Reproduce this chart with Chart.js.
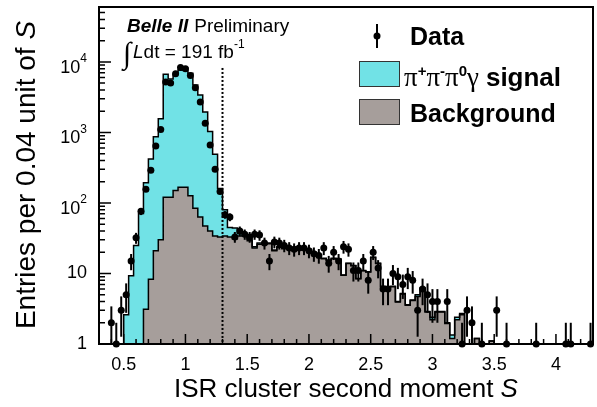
<!DOCTYPE html>
<html>
<head>
<meta charset="utf-8">
<script src="https://cdn.jsdelivr.net/npm/chart.js@4.4.0/dist/chart.umd.min.js"></script>
<style>
  html, body { margin: 0; padding: 0; background: #fff; }
  #wrap { position: relative; width: 597px; height: 407px; }
</style>
</head>
<body>
<div id="wrap"><canvas id="momentChart" width="597" height="407"></canvas></div>
<script>
// binning of the histogram: 100 bins of 0.04 from 0.3 to 4.3
const binLow = 0.3;
const binWidth = 0.04;
const nBins = 100;

// MC background per bin
const background = [
  0, 0, 0, 0, 0, 0, 0, 0, 0, 3.1,
  8.3, 21, 30, 120, 120, 150, 167, 167, 126, 84,
  63, 47, 40, 34, 33, 34, 33, 31, 34, 34.5,
  29, 23, 26, 26, 26.3, 21, 23.5, 22.5, 22.4, 22.1,
  21.7, 22.2, 21.7, 19.8, 18.1, 16.2, 15.3, 16.2, 15.8, 9.4,
  13.9, 12.9, 8.4, 10.9, 10.5, 16.9, 13.9, 6.5, 6.4, 6.5,
  3.95, 5.1, 3.55, 4.15, 4.7, 6.1, 2.85, 2.2, 2.85, 2.85,
  1.95, 1.2, 2.2, 2.6, 0, 0, 1.2, 0, 0, 1.1,
  0, 0, 0, 0, 0, 0, 0, 0, 0, 0,
  0, 0, 0, 0, 0, 0, 0, 0, 0, 0
];

// MC signal (pi+ pi- pi0 gamma) per bin, stacked on top of background
const signal = [
  0, 0, 0, 0, 0, 2.6, 9.3, 25, 71, 191,
  413, 850, 1530, 6580, 5580, 6450, 7530, 7930, 6770, 4620,
  3340, 1900, 990, 456, 127, 46, 12, 13, 3, 2.5,
  1.5, 1, 1, 1, 0.7, 0.6, 0.5, 0.5, 0.4, 0.4,
  0.3, 0.3, 0.3, 0.2, 0.2, 0.2, 0.2, 0.2, 0.2, 0.1,
  0.1, 0.1, 0.1, 0.1, 0.1, 0.1, 0.1, 0.1, 0.1, 0.1,
  0.05, 0.1, 0.05, 0.05, 0.3, 0.1, 0.05, 0.2, 0.05, 0.05,
  0.05, 0.14, 0.2, 0.1, 0, 0, 0, 0, 0, 0,
  0, 0, 0, 0, 0, 0, 0, 0, 0, 0,
  0, 0, 0, 0, 0, 0, 0, 0, 0, 0
];

// data entries per bin
const dataCounts = [
  0, 0, 2, 1, 3, 5, 15, 32, 76, 156,
  291, 640, 1100, 5200, 5000, 6800, 8300, 8000, 6400, 4300,
  2700, 1350, 665, 300, 145, 68, 63, 33, 40, 36,
  33, 36, 35, 27, 15, 28, 27, 25, 23, 22,
  23, 23, 21, 19, 18, 23, 14, 20, 15, 24,
  22, 11, 11, 15, 8, 20, 12, 6, 6, 10,
  9, 7, 9, 8, 3, 6, 5, 4, 4, 0,
  4, 0, 0, 1, 3, 2, 0, 1, 0, 0,
  3, 0, 1, 0, 0, 0, 0, 0, 1, 0,
  0, 0, 0, 0, 1, 1, 0, 0, 0, 1
];

const xTickValues = [0.5, 1, 1.5, 2, 2.5, 3, 3.5, 4];
const yTickValues = [1, 10, 100, 1000, 10000];
const yTickExponents = ["", "", "2", "3", "4"];
const cutValue = 1.3;      // S cut, dotted line
const cutLineTop = 8200;   // dotted line stops under the lumi text

const FONT = "'Liberation Sans', Arial, Helvetica, sans-serif";
const SERIF = "'Liberation Serif', 'Times New Roman', serif";
const CYAN = "#71e2e6";
const GREY = "#a69e9b";
const floorValue = 1e-3; // empty bins, below the log axis

const edges = [];
for (let i = 0; i <= nBins; i++) edges.push(+(binLow + i * binWidth).toFixed(2));

const total = background.map((b, i) => b + signal[i]);

function stepPoints(values) {
  return edges.map((x, i) => ({ x: x, y: Math.max(values[Math.min(i, nBins - 1)], floorValue) }));
}

const dataPoints = [];
dataCounts.forEach((n, i) => {
  if (n > 0) dataPoints.push({ x: +(binLow + (i + 0.5) * binWidth).toFixed(2), y: n });
});

// draw a row of text pieces with different fonts / vertical offsets
function drawPieces(ctx, x, y, pieces) {
  pieces.forEach((p) => {
    ctx.font = p.font;
    ctx.fillText(p.t, x, y + (p.dy || 0));
    x += ctx.measureText(p.t).width;
  });
  return x;
}
function piecesWidth(ctx, pieces) {
  let w = 0;
  pieces.forEach((p) => { ctx.font = p.font; w += ctx.measureText(p.t).width; });
  return w;
}

const decorations = {
  id: "decorations",
  beforeDatasetDraw(chart, args) {
    if (args.index !== 2) return;
    const { ctx, chartArea: a, scales: { x, y } } = chart;
    ctx.save();
    // dotted cut line
    ctx.strokeStyle = "#000";
    ctx.lineWidth = 2;
    ctx.setLineDash([2, 2]);
    ctx.beginPath();
    const cx = x.getPixelForValue(cutValue);
    ctx.moveTo(cx, y.getPixelForValue(cutLineTop));
    ctx.lineTo(cx, a.bottom);
    ctx.stroke();
    ctx.setLineDash([]);
    // error bars sqrt(N)
    ctx.lineWidth = 2;
    dataPoints.forEach((p) => {
      const err = Math.sqrt(p.y);
      const lo = Math.max(p.y - err, y.min);
      const px = x.getPixelForValue(p.x);
      ctx.beginPath();
      ctx.moveTo(px, y.getPixelForValue(lo));
      ctx.lineTo(px, y.getPixelForValue(p.y + err));
      ctx.stroke();
    });
    ctx.restore();
  },
  afterDraw(chart) {
    const { ctx, chartArea: a, scales: { x, y } } = chart;
    ctx.save();
    ctx.strokeStyle = "#000";
    ctx.fillStyle = "#000";

    // ticks pointing inwards
    ctx.lineWidth = 1.5;
    ctx.beginPath();
    for (let k = 4; k <= 42; k++) {
      const px = x.getPixelForValue(k / 10);
      const len = k % 5 === 0 ? 10 : 5;
      ctx.moveTo(px, a.bottom);
      ctx.lineTo(px, a.bottom - len);
    }
    for (let d = 0; d <= 4; d++) {
      for (let m = 1; m <= 9; m++) {
        const v = m * Math.pow(10, d);
        if (v >= y.max) break;
        const py = y.getPixelForValue(v);
        ctx.moveTo(a.left, py);
        ctx.lineTo(a.left + (m === 1 ? 12 : 6), py);
      }
    }
    ctx.stroke();

    // frame
    ctx.lineWidth = 2;
    ctx.strokeRect(a.left, a.top, a.right - a.left, a.bottom - a.top);

    // y tick labels with superscripts
    ctx.textBaseline = "middle";
    ctx.textAlign = "left";
    yTickValues.forEach((v, i) => {
      const py = y.getPixelForValue(v);
      const exp = yTickExponents[i];
      if (exp === "") {
        ctx.font = "18px " + FONT;
        const w = ctx.measureText(String(v)).width;
        ctx.fillText(String(v), 87 - w, py);
      } else {
        const pieces = [
          { t: "10", font: "18px " + FONT, dy: 6 },
          { t: exp, font: "12px " + FONT, dy: -3 }
        ];
        drawPieces(ctx, 87 - piecesWidth(ctx, pieces), py, pieces);
      }
    });

    ctx.textBaseline = "alphabetic";
    // x title
    const xt = [
      { t: "ISR cluster second moment ", font: "26px " + FONT },
      { t: "S", font: "italic 26px " + FONT }
    ];
    drawPieces(ctx, 346 - piecesWidth(ctx, xt) / 2, 397, xt);

    // y title
    const yt = [
      { t: "Entries per 0.04 unit of ", font: "28px " + FONT },
      { t: "S", font: "italic 28px " + FONT }
    ];
    ctx.save();
    ctx.translate(35, 175);
    ctx.rotate(-Math.PI / 2);
    drawPieces(ctx, -piecesWidth(ctx, yt) / 2, 0, yt);
    ctx.restore();

    // Belle II label
    let tx = drawPieces(ctx, 127, 32, [{ t: "Belle II", font: "italic bold 19px " + FONT }]);
    drawPieces(ctx, tx + 6, 32, [{ t: "Preliminary", font: "19px " + FONT }]);
    drawPieces(ctx, 123, 63, [{ t: "\u222B", font: "30px " + SERIF }]);
    drawPieces(ctx, 133, 58, [
      { t: "L", font: "italic 19px " + FONT },
      { t: "dt = 191 fb", font: "19px " + FONT },
      { t: "-1", font: "12px " + FONT, dy: -10 }
    ]);

    // legend
    ctx.lineWidth = 2;
    ctx.beginPath();
    ctx.moveTo(377, 24);
    ctx.lineTo(377, 48);
    ctx.stroke();
    ctx.beginPath();
    ctx.arc(377, 36, 3.5, 0, Math.PI * 2);
    ctx.fill();
    drawPieces(ctx, 410, 45, [{ t: "Data", font: "bold 25px " + FONT }]);

    ctx.lineWidth = 1;
    ctx.fillStyle = CYAN;
    ctx.fillRect(359, 61, 41, 26);
    ctx.strokeStyle = "#333";
    ctx.strokeRect(359.5, 61.5, 40, 25);
    ctx.fillStyle = GREY;
    ctx.fillRect(359, 99, 41, 26);
    ctx.strokeRect(359.5, 99.5, 40, 25);

    ctx.fillStyle = "#000";
    const sup = "bold 15px " + FONT;
    const px = drawPieces(ctx, 404, 86, [
      { t: "\u03C0", font: "27px " + SERIF },
      { t: "+", font: sup, dy: -10 },
      { t: "\u03C0", font: "27px " + SERIF },
      { t: "-", font: sup, dy: -10 },
      { t: "\u03C0", font: "27px " + SERIF },
      { t: "0", font: sup, dy: -10 },
      { t: "\u03B3", font: "27px " + SERIF }
    ]);
    drawPieces(ctx, px + 7, 86, [{ t: "signal", font: "bold 26px " + FONT }]);
    drawPieces(ctx, 410, 122, [{ t: "Background", font: "bold 25px " + FONT }]);
    ctx.restore();
  }
};

new Chart(document.getElementById("momentChart"), {
  type: "line",
  data: {
    datasets: [
      {
        label: "Background",
        data: stepPoints(background),
        stepped: "before",
        borderColor: "#000",
        borderWidth: 1.5,
        backgroundColor: GREY,
        fill: "start",
        pointRadius: 0,
        order: 2,
      },
      {
        label: "signal",
        data: stepPoints(total),
        stepped: "before",
        borderColor: "#000",
        borderWidth: 1.5,
        backgroundColor: CYAN,
        fill: "-1",
        pointRadius: 0,
        order: 1,
      },
      {
        type: "scatter",
        label: "Data",
        data: dataPoints,
        pointRadius: 3.5,
        pointBackgroundColor: "#000",
        pointBorderWidth: 0,
        clip: false,
        order: 0,
      },
    ],
  },
  options: {
    responsive: false,
    animation: false,
    layout: { padding: { top: 7, right: 2, left: 0, bottom: 0 } },
    plugins: {
      legend: { display: false },
      tooltip: { enabled: false },
      filler: { drawTime: "beforeDatasetsDraw" },
    },
    scales: {
      x: {
        type: "linear",
        min: 0.3,
        max: 4.3,
        grid: { display: false },
        border: { display: false },
        afterBuildTicks: (s) => { s.ticks = xTickValues.map((v) => ({ value: v })); },
        afterFit: (s) => { s.height = 63; },
        ticks: {
          autoSkip: false,
          maxRotation: 0,
          padding: 2,
          color: "#000",
          font: { family: FONT, size: 18 },
          callback: (v) => String(v),
        },
      },
      y: {
        type: "logarithmic",
        min: 1,
        max: 60000,
        grid: { display: false },
        border: { display: false },
        ticks: { display: false },
        afterFit: (s) => { s.width = 99; },
      },
    },
  },
  plugins: [decorations],
});
</script>
</body>
</html>
